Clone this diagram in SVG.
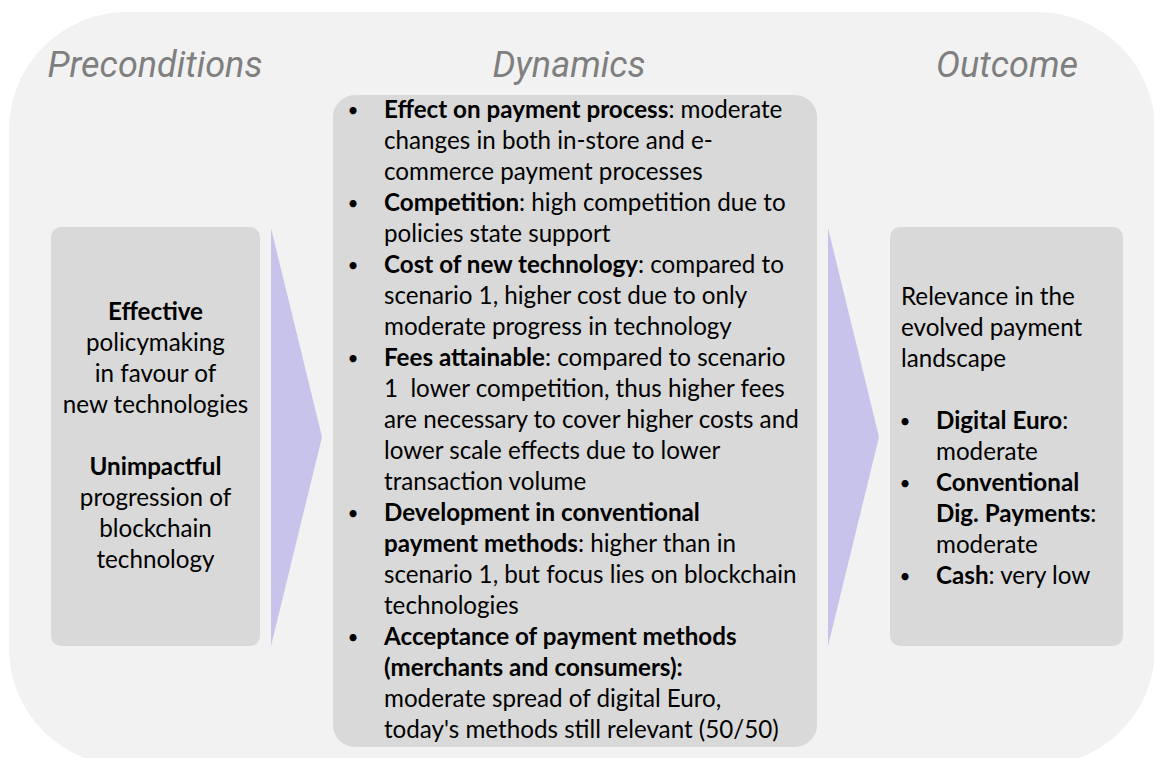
<svg xmlns="http://www.w3.org/2000/svg" width="1154" height="758" viewBox="0 0 1154 758">
  <style>
    .bg{fill:#f2f2f2}
    .box{fill:#d9d9d9}
    .chev{fill:#c8c3eb}
    .title{font-family:Roboto,"Liberation Sans",sans-serif;font-style:italic;font-size:36px;fill:#7f7f7f;text-anchor:middle}
    .t{font-family:Lato,"Liberation Sans",sans-serif;font-size:24.2px;fill:#000}
    .c{text-anchor:middle}
    .dot{text-anchor:middle;font-size:19px}
    .b{font-weight:bold}
  </style>

  <!-- canvas panel -->
  <rect class="bg" x="9" y="12" width="1146" height="754" rx="118"/>

  <!-- column headings -->
  <g id="headings">
    <text class="title" x="155" y="77">Preconditions</text>
    <text class="title" x="569" y="77">Dynamics</text>
    <text class="title" x="1007" y="77">Outcome</text>
  </g>

  <!-- chevron connectors between the columns -->
  <g id="connectors">
    <polygon class="chev" points="271,228 322,437 271,646"/>
    <polygon class="chev" points="828,228 879,437 828,646"/>
  </g>

  <!-- preconditions -->
  <g id="preconditions">
    <rect class="box" x="51" y="227" width="209" height="419" rx="10"/>
    <text class="t c b" x="155.5" y="320">Effective</text>
    <text class="t c" x="155.5" y="351">policymaking</text>
    <text class="t c" x="155.5" y="382">in favour of</text>
    <text class="t c" x="155.5" y="413">new technologies</text>
    <text class="t c b" x="155.5" y="475">Unimpactful</text>
    <text class="t c" x="155.5" y="506">progression of</text>
    <text class="t c" x="155.5" y="537">blockchain</text>
    <text class="t c" x="155.5" y="568">technology</text>
  </g>

  <!-- dynamics -->
  <g id="dynamics">
    <rect class="box" x="333" y="95" width="484" height="652" rx="22"/>
    <text class="t dot" x="353" y="117">•</text>
    <text class="t" x="384" y="118"><tspan class="b">Effect on payment process</tspan>: moderate</text>
    <text class="t" x="384" y="149">changes in both in-store and e-</text>
    <text class="t" x="384" y="180">commerce payment processes</text>
    <text class="t dot" x="353" y="210">•</text>
    <text class="t" x="384" y="211"><tspan class="b">Competition</tspan>: high competition due to</text>
    <text class="t" x="384" y="242">policies state support</text>
    <text class="t dot" x="353" y="272">•</text>
    <text class="t" x="384" y="273"><tspan class="b">Cost of new technology</tspan>: compared to</text>
    <text class="t" x="384" y="304">scenario 1, higher cost due to only</text>
    <text class="t" x="384" y="335">moderate progress in technology</text>
    <text class="t dot" x="353" y="365">•</text>
    <text class="t" x="384" y="366"><tspan class="b">Fees attainable</tspan>: compared to scenario</text>
    <text class="t" x="384" y="397" xml:space="preserve">1  lower competition, thus higher fees</text>
    <text class="t" x="384" y="428">are necessary to cover higher costs and</text>
    <text class="t" x="384" y="459">lower scale effects due to lower</text>
    <text class="t" x="384" y="490">transaction volume</text>
    <text class="t dot" x="353" y="520">•</text>
    <text class="t b" x="384" y="521">Development in conventional</text>
    <text class="t" x="384" y="552"><tspan class="b">payment methods</tspan>: higher than in</text>
    <text class="t" x="384" y="583">scenario 1, but focus lies on blockchain</text>
    <text class="t" x="384" y="614">technologies</text>
    <text class="t dot" x="353" y="644">•</text>
    <text class="t b" x="384" y="645">Acceptance of payment methods</text>
    <text class="t b" x="384" y="676">(merchants and consumers):</text>
    <text class="t" x="384" y="707">moderate spread of digital Euro,</text>
    <text class="t" x="384" y="738">today's methods still relevant (50/50)</text>
  </g>

  <!-- outcome -->
  <g id="outcome">
    <rect class="box" x="890" y="227" width="233" height="419" rx="10"/>
    <text class="t" x="901" y="305">Relevance in the</text>
    <text class="t" x="901" y="336">evolved payment</text>
    <text class="t" x="901" y="367">landscape</text>
    <text class="t dot" x="905" y="428">•</text>
    <text class="t" x="936" y="429"><tspan class="b">Digital Euro</tspan>:</text>
    <text class="t" x="936" y="460">moderate</text>
    <text class="t dot" x="905" y="490">•</text>
    <text class="t b" x="936" y="491">Conventional</text>
    <text class="t" x="936" y="522"><tspan class="b">Dig. Payments</tspan>:</text>
    <text class="t" x="936" y="553">moderate</text>
    <text class="t dot" x="905" y="583">•</text>
    <text class="t" x="936" y="584"><tspan class="b">Cash</tspan>: very low</text>
  </g>
</svg>
